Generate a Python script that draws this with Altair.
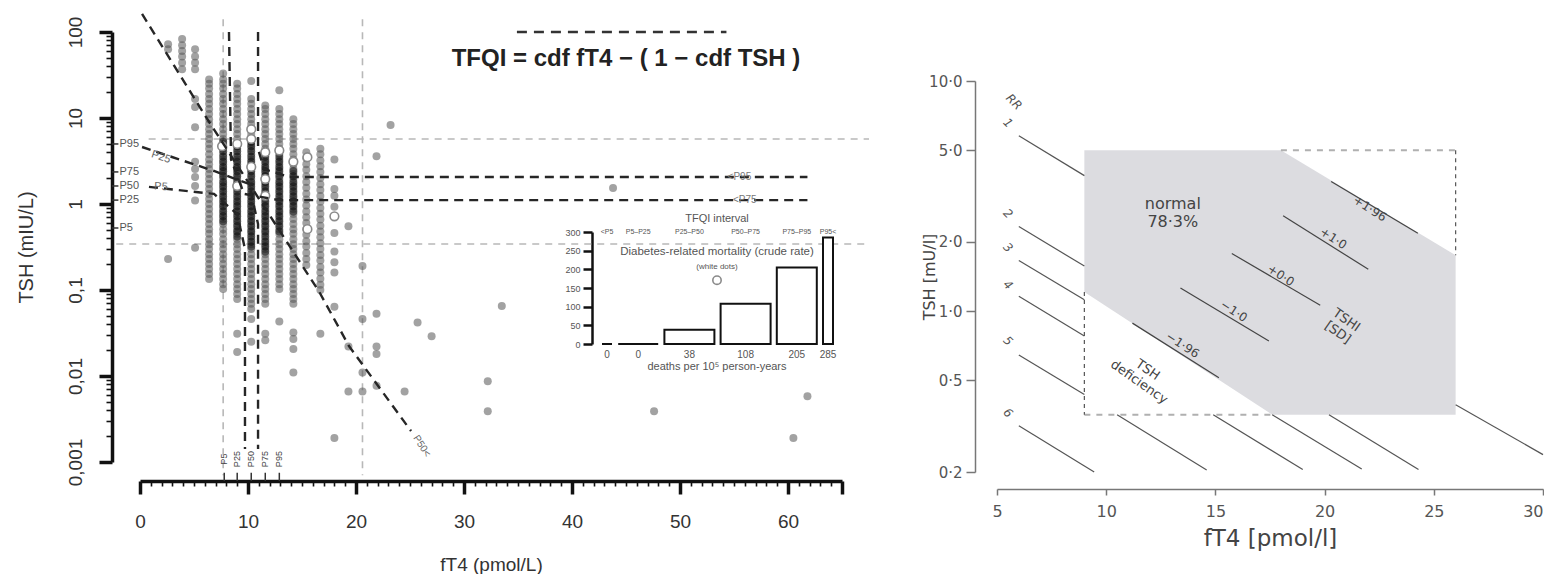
import altair as alt
import pandas as pd

FL = "Liberation Sans"
FR = "DejaVu Sans"

# ================= LEFT PANEL DATA =================
# grey dots: fT4 column (pmol/L) -> TSH values (mIU/L)
DOTS = {
    2.6: [72, 63, 0.23],
    3.9: [83, 70, 60, 52, 44, 37],
    5.1: [63, 52, 44, 37, 16.6, 13.4, 7.8, 3.1, 2.55, 2.06, 1.62, 1.1, 0.31],
    6.4: [28, 25, 22, 19, 16.6, 14.6, 12.7, 11.1, 9.7, 8.5, 7.4, 6.5, 5.7, 5.0, 4.4, 3.8, 3.3, 2.9,
          2.55, 2.23, 1.95, 1.71, 1.49, 1.31, 1.14, 1.0, 0.875, 0.765, 0.67, 0.585, 0.51, 0.45, 0.39,
          0.34, 0.30, 0.26, 0.23, 0.2, 0.175, 0.153, 0.134],
    7.7: [33, 28, 25, 22, 19, 16.6, 14.6, 12.7, 11.1, 9.7, 8.5, 7.4, 6.5, 5.7, 5.0, 4.4, 3.8, 3.3,
          2.9, 2.55, 2.23, 1.95, 1.71, 1.49, 1.31, 1.14, 1.0, 0.875, 0.765, 0.67, 0.585, 0.51, 0.45,
          0.39, 0.34, 0.30, 0.26, 0.23, 0.2, 0.175, 0.153, 0.134, 0.117, 0.103],
    9.0: [25, 22, 19, 16.6, 14.6, 12.7, 11.1, 9.7, 8.5, 7.4, 6.5, 5.7, 5.0, 4.4, 3.8, 3.3, 2.9, 2.55,
          2.23, 1.95, 1.71, 1.49, 1.31, 1.14, 1.0, 0.875, 0.765, 0.67, 0.585, 0.51, 0.45, 0.39, 0.34,
          0.30, 0.26, 0.23, 0.2, 0.175, 0.153, 0.134, 0.117, 0.103, 0.09, 0.0785, 0.031, 0.019],
    10.3: [27, 16.6, 14.6, 12.7, 11.1, 9.7, 8.5, 7.4, 6.5, 5.7, 5.0, 4.4, 3.8, 3.3, 2.9, 2.55, 2.23,
           1.95, 1.71, 1.49, 1.31, 1.14, 1.0, 0.875, 0.765, 0.67, 0.585, 0.51, 0.45, 0.39, 0.34, 0.30,
           0.26, 0.23, 0.2, 0.175, 0.153, 0.134, 0.117, 0.103, 0.09, 0.0785, 0.069, 0.06, 0.046, 0.025],
    11.6: [14, 12.7, 11.1, 9.7, 8.5, 7.4, 6.5, 5.7, 5.0, 4.4, 3.8, 3.3, 2.9, 2.55, 2.23, 1.95, 1.71,
           1.49, 1.31, 1.14, 1.0, 0.875, 0.765, 0.67, 0.585, 0.51, 0.45, 0.39, 0.34, 0.30, 0.26, 0.23,
           0.2, 0.175, 0.153, 0.134, 0.117, 0.103, 0.09, 0.0785, 0.069, 0.031, 0.026],
    12.9: [21, 12.7, 11.1, 9.7, 8.5, 7.4, 6.5, 5.7, 5.0, 4.4, 3.8, 3.3, 2.9, 2.55, 2.23, 1.95, 1.71,
           1.49, 1.31, 1.14, 1.0, 0.875, 0.765, 0.67, 0.585, 0.51, 0.45, 0.39, 0.34, 0.30, 0.26, 0.23,
           0.2, 0.175, 0.153, 0.134, 0.117, 0.103, 0.043],
    14.2: [9.7, 8.5, 7.4, 6.5, 5.7, 5.0, 4.4, 3.8, 3.3, 2.9, 2.55, 2.23, 1.95, 1.71, 1.49, 1.31, 1.14,
           1.0, 0.875, 0.765, 0.67, 0.585, 0.51, 0.45, 0.39, 0.34, 0.30, 0.26, 0.23, 0.2, 0.175, 0.153,
           0.134, 0.117, 0.103, 0.09, 0.0785, 0.069, 0.032, 0.027, 0.0206, 0.011],
    15.4: [4.0, 3.4, 2.9, 2.5, 2.1, 1.8, 1.55, 1.32, 1.13, 0.96, 0.82, 0.7, 0.6, 0.51, 0.44, 0.37,
           0.32, 0.27, 0.23, 0.195],
    16.7: [4.4, 3.8, 3.2, 2.75, 2.35, 2.0, 1.7, 1.45, 1.24, 1.06, 0.9, 0.77, 0.66, 0.56, 0.48, 0.41,
           0.35, 0.3, 0.255, 0.22, 0.185, 0.16, 0.135, 0.115, 0.1, 0.031],
    18.0: [3.3, 1.49, 1.25, 0.93, 0.46, 0.28, 0.21, 0.16, 0.064, 0.0019],
    19.3: [0.55, 0.022, 0.0066],
    20.6: [0.19, 0.046, 0.011, 0.0066],
    21.9: [3.6, 0.053, 0.022, 0.018, 0.0077],
    23.2: [8.3],
    24.5: [0.0066],
    25.7: [0.042],
    27.0: [0.029],
    32.2: [0.0087, 0.0039],
    33.5: [0.065],
    43.8: [1.53],
    47.6: [0.0039],
    60.5: [0.0019],
    61.8: [0.0058],
}
# extra dots in the crowded (black) core
CORE = {
    7.7: [5.3, 4.7, 4.1, 3.55, 3.1, 2.7, 2.4, 2.1, 1.8, 1.6, 1.4, 1.22, 1.07, 0.94, 0.82, 0.72, 0.63],
    9.0: [4.7, 4.1, 3.55, 3.1, 2.7, 2.4, 2.1, 1.8, 1.6, 1.4, 1.22, 1.07, 0.94, 0.82, 0.72, 0.63, 0.55, 0.48, 0.42],
    10.3: [5.3, 4.7, 4.1, 3.55, 3.1, 2.7, 2.4, 2.1, 1.8, 1.6, 1.4, 1.22, 1.07, 0.94, 0.82, 0.72, 0.63, 0.55, 0.48, 0.42, 0.365, 0.32],
    11.6: [4.1, 3.55, 3.1, 2.7, 2.4, 2.1, 1.8, 1.6, 1.4, 1.22, 1.07, 0.94, 0.82, 0.72, 0.63, 0.55, 0.48, 0.42, 0.365, 0.32, 0.28],
    12.9: [3.55, 3.1, 2.7, 2.4, 2.1, 1.8, 1.6, 1.4, 1.22, 1.07, 0.94, 0.82, 0.72, 0.63, 0.55, 0.48],
    14.2: [2.4, 2.1, 1.8, 1.6, 1.4, 1.22, 1.07, 0.94, 0.82],
}
# white dots (diabetes-related deaths)
WHITE_X = [7.6, 9.0, 10.3, 10.3, 11.6, 12.9, 14.2, 15.5, 9.0, 11.6, 11.6, 10.3, 18.0, 15.5]
WHITE_Y = [4.7, 5.0, 7.4, 5.7, 4.0, 4.2, 3.1, 3.5, 1.62, 1.95, 1.25, 2.7, 0.72, 0.51]

# TFQI percentile iso-curves (fT4, TSH)
CURVE_NAME = ["P95", "P75", "P25", "P5", "P50"]
CURVE_X = [[10.93, 10.93, 11.48, 13.8, 61.8],
           [8.24, 8.43, 9.63, 12.87, 61.8],
           [0.19, 6.85, 10.1, 10.93, 10.93],
           [0.83, 6.85, 9.0, 9.72, 9.72],
           [0.19, 6.1, 16.6, 19.35, 25.1]]
CURVE_Y = [[100, 4.37, 2.55, 2.06, 2.06],
           [100, 3.3, 1.31, 1.11, 1.11],
           [4.6, 2.42, 1.71, 0.585, 0.00142],
           [1.58, 1.31, 0.765, 0.30, 0.00142],
           [162, 10.3, 0.095, 0.0223, 0.00229]]

# reference-interval light dashed lines
REFV_X = [7.7, 20.6]
REFV_Y = [141, 0.0007]
REFH_Y = [5.7, 0.343]
REFH_X0 = [0.8, -2.2]
REFH_X1 = 67.5

# TSH percentiles on y axis, fT4 percentiles on x axis
TSH_PCT_LAB = ["P95", "P75", "P50", "P25", "P5"]
TSH_PCT_VAL = [4.99, 2.36, 1.62, 1.11, 0.526]
FT4_PCT_LAB = ["P5", "P25", "P50", "P75", "P95"]
FT4_PCT_VAL = [7.8, 9.0, 10.3, 11.6, 12.9]

# inset bar chart
BAR_START = [0, 5, 25, 50, 75, 95]
BAR_END = [5, 25, 50, 75, 95, 100]
BAR_RATE = [0, 0, 38, 108, 205, 285]
BAR_CAT = ["<P5", "P5–P25", "P25–P50", "P50–P75", "P75–P95", "P95<"]

# ================= RIGHT PANEL DATA =================
POLY_X = [9, 17.6, 18, 26]
POLY_UP = [5, 5, 5, 1.75]
POLY_LO = [1.21, 0.355, 0.355, 0.355]
RR_SEG = [  # x, y, x2, y2
    (6, 5.78, 9, 3.88), (26, 0.392, 30.0, 0.238),
    (6, 2.33, 9, 1.57), (20.2, 0.355, 24.3, 0.205),
    (6, 1.66, 9, 1.12), (17.6, 0.355, 21.7, 0.206),
    (6, 1.16, 9, 0.78), (14.9, 0.355, 19.0, 0.205),
    (6, 0.645, 9, 0.434), (10.5, 0.355, 14.6, 0.204),
    (6, 0.318, 9.45, 0.2),
]
RR_LAB = ["RR", "1", "2", "3", "4", "5", "6"]
RR_LAB_X = [5.78, 5.5, 5.5, 5.5, 5.5, 5.5, 5.5]
RR_LAB_Y = [8.11, 6.58, 2.65, 1.89, 1.30, 0.742, 0.361]
TSHI_SEG = [(20.3, 3.66, 24.27, 2.18), (18.1, 2.6, 22.0, 1.52), (15.75, 1.78, 19.8, 1.06),
            (13.4, 1.26, 17.45, 0.742), (11.2, 0.887, 15.16, 0.513)]
TSHI_LAB = ["+1·96", "+1·0", "+0·0", "−1·0", "−1·96"]
TSHI_LAB_X = [22.07, 20.4, 18.0, 15.85, 13.5]
TSHI_LAB_Y = [2.79, 2.07, 1.43, 1.0, 0.713]
BOX_LIGHT = [(18, 5, 26, 5), (9, 0.355, 17.6, 0.355)]
BOX_DARK = [(26, 5, 26, 1.75), (9, 1.21, 9, 0.355)]

# ================= LEFT PANEL =================
major_x = "datum.value % 10 === 0 || datum.value === 65"
major_y = "abs(log(datum.value)/LN10 - round(log(datum.value)/LN10)) < 0.01"

x_axis_L = alt.Axis(
    values=list(range(0, 66)), orient="bottom", offset=19, grid=False,
    domainColor="#111", domainWidth=3.5, tickColor="#111",
    tickSize={"condition": {"test": major_x, "value": 13}, "value": 5},
    tickWidth={"condition": {"test": major_x, "value": 3.5}, "value": 1.6},
    labelExpr="datum.value % 10 === 0 ? datum.label : ''",
    labelFont=FL, labelFontSize=19, labelColor="#333", labelPadding=18,
    labelFlush=False, labelOverlap=False, labelBound=False,
    title="fT4 (pmol/L)", titleFont=FL, titleFontSize=19, titleFontWeight="normal",
    titleColor="#333", titlePadding=24,
)
y_vals = [k * 10.0 ** d for d in range(-3, 2) for k in range(1, 10)] + [100]
y_axis_L = alt.Axis(
    values=y_vals, orient="left", offset=28, grid=False,
    domainColor="#111", domainWidth=3.5, tickColor="#111",
    tickSize={"condition": {"test": major_y, "value": 13}, "value": 6},
    tickWidth={"condition": {"test": major_y, "value": 3.5}, "value": 1.6},
    labelExpr=major_y + " ? replace(format(datum.value, '~g'), '.', ',') : ''",
    labelAngle=270, labelAlign="center", labelBaseline="bottom",
    labelFont=FL, labelFontSize=19, labelColor="#333", labelPadding=14,
    labelFlush=False, labelOverlap=False, labelBound=False,
    title="TSH (mIU/L)", titleFont=FL, titleFontSize=20, titleFontWeight="normal",
    titleColor="#333", titlePadding=30,
)
xs_L = alt.Scale(domain=[0, 65], nice=False, zero=False)
ys_L = alt.Scale(type="log", domain=[0.001, 100], nice=False)
X_L = alt.X("x:Q", scale=xs_L, axis=x_axis_L)
Y_L = alt.Y("y:Q", scale=ys_L, axis=y_axis_L)


def chartL(df):
    return alt.Chart(df).encode(x=X_L, y=Y_L)


dots = pd.DataFrame([{"x": k, "y": v} for k, vs in DOTS.items() for v in vs])
core = pd.DataFrame([{"x": k, "y": v} for k, vs in CORE.items() for v in vs])
whites = pd.DataFrame({"x": WHITE_X, "y": WHITE_Y})
curves = pd.DataFrame([{"c": n, "i": i, "x": xx, "y": yy}
                       for n, xs, ys in zip(CURVE_NAME, CURVE_X, CURVE_Y)
                       for i, (xx, yy) in enumerate(zip(xs, ys))])
ref_rules = pd.DataFrame(
    [{"x": v, "x2": v, "y": REFV_Y[0], "y2": REFV_Y[1]} for v in REFV_X]
    + [{"x": x0, "x2": REFH_X1, "y": h, "y2": h} for h, x0 in zip(REFH_Y, REFH_X0)])
title_rule = pd.DataFrame({"x": [34.9], "x2": [54.3], "y": [100], "y2": [100]})
ytick_rules = pd.DataFrame({"x": [-2.59] * 5, "x2": [-2.0] * 5, "y": TSH_PCT_VAL, "y2": TSH_PCT_VAL})
xtick_rules = pd.DataFrame({"x": FT4_PCT_VAL, "x2": FT4_PCT_VAL, "y": [0.0006] * 5, "y2": [0.00075] * 5})

L_ref = chartL(ref_rules).mark_rule(strokeDash=[7, 6], color="#b8b8b8", strokeWidth=1.6).encode(
    x2="x2:Q", y2="y2:Q")
L_dots = chartL(dots).mark_circle(size=64, color="#555555", opacity=0.55)
L_core = chartL(core).mark_circle(size=64, color="#000000", opacity=0.52)
L_white = chartL(whites).mark_point(shape="circle", size=75, filled=True, fill="white",
                                    stroke="#8a8a8a", strokeWidth=1.6, opacity=1)
L_curves = chartL(curves).mark_line(strokeDash=[9, 6], color="#262626", strokeWidth=2.4).encode(
    detail="c:N", order="i:Q")
L_trule = chartL(title_rule).mark_rule(strokeDash=[10, 7], color="#333", strokeWidth=2.5).encode(
    x2="x2:Q", y2="y2:Q")
L_ytk = chartL(ytick_rules).mark_rule(color="#333", strokeWidth=1.5).encode(x2="x2:Q", y2="y2:Q")
L_xtk = chartL(xtick_rules).mark_rule(color="#333", strokeWidth=1.5).encode(x2="x2:Q", y2="y2:Q")

L_formula = chartL(pd.DataFrame({"x": [45], "y": [48], "t": ["TFQI = cdf fT4 − ( 1 − cdf TSH )"]})).mark_text(
    font=FL, fontSize=24, fontWeight="bold", color="#222").encode(text="t:N")
L_ypct = chartL(pd.DataFrame({"x": [-1.9] * 5, "y": TSH_PCT_VAL, "t": TSH_PCT_LAB})).mark_text(
    font=FL, fontSize=11, color="#555", align="left", baseline="middle").encode(text="t:N")
L_xpct = chartL(pd.DataFrame({"x": FT4_PCT_VAL, "y": [0.00108] * 5, "t": FT4_PCT_LAB})).mark_text(
    font=FL, fontSize=9, color="#444", angle=270, align="center", baseline="middle").encode(text="t:N")
L_p25 = chartL(pd.DataFrame({"x": [1.94], "y": [3.5], "t": ["P25"]})).mark_text(
    font=FL, fontSize=11, color="#666", angle=18).encode(text="t:N")
L_p5 = chartL(pd.DataFrame({"x": [1.94], "y": [1.58], "t": ["P5"]})).mark_text(
    font=FL, fontSize=11, color="#666", angle=3).encode(text="t:N")
L_p50 = chartL(pd.DataFrame({"x": [26.1], "y": [0.00153], "t": ["P50<"]})).mark_text(
    font=FL, fontSize=10, color="#666", angle=57).encode(text="t:N")
L_right = chartL(pd.DataFrame({"x": [55.5, 56], "y": [2.06, 1.11], "t": ["<P95", "<P75"]})).mark_text(
    font=FL, fontSize=10, color="#777").encode(text="t:N")

main_group = alt.layer(L_ref, L_dots, L_core, L_white, L_curves, L_trule, L_ytk, L_xtk,
                       L_formula, L_ypct, L_xpct, L_p25, L_p5, L_p50, L_right)

# ----- inset -----
inset_axis = alt.Axis(values=[0, 50, 100, 150, 200, 250, 300], orient="left", offset=-452,
                      grid=False, domainColor="#111", domainWidth=2.5, tickColor="#111",
                      tickWidth=2.5, tickSize=9, labelFont=FL, labelFontSize=9, labelColor="#555",
                      labelPadding=3, labelFlush=False, title=None)
xs_I = alt.Scale(domain=[0, 115.5], range=[462, 693], nice=False, zero=False)
ys_I = alt.Scale(domain=[0, 300], range=[312, 200], nice=False, zero=False)


def XI(f):
    return alt.X(f, scale=xs_I, axis=None)


def YI(f):
    return alt.Y(f, scale=ys_I, axis=inset_axis)


bars = pd.DataFrame({"idx": list(range(6)), "start": BAR_START, "end": BAR_END,
                     "rate": BAR_RATE, "cat": BAR_CAT, "lab": [str(r) for r in BAR_RATE]})
bars_c = alt.Chart(bars).transform_calculate(
    bx="datum.start + 3.1*datum.idx", bx2="datum.end + 3.1*datum.idx",
    bc="(datum.start + datum.end)/2 + 3.1*datum.idx", zero="0", vy="-29", cy="300")
I_bars = bars_c.mark_rect(fill="white", stroke="#111", strokeWidth=2).encode(
    x=XI("bx:Q"), x2="bx2:Q", y=YI("zero:Q"), y2="rate:Q")
I_vals = bars_c.mark_text(font=FL, fontSize=10, color="#555").encode(
    x=XI("bc:Q"), y=YI("vy:Q"), text="lab:N")
I_cats = bars_c.mark_text(font=FL, fontSize=7, color="#555").encode(
    x=XI("bc:Q"), y=YI("cy:Q"), text="cat:N")
itxt = pd.DataFrame({"bc": [57.5, 57.5, 57.5, 57.5],
                     "by": [335, 246, 205, -62],
                     "t": ["TFQI interval", "Diabetes-related mortality (crude rate)", "(white dots)",
                           "deaths per 10⁵ person-years"],
                     "fs": [11, 11.5, 8, 11]})
I_txt = alt.Chart(itxt).mark_text(font=FL, color="#555").encode(
    x=XI("bc:Q"), y=YI("by:Q"), text="t:N", size=alt.Size("fs:Q", scale=None, legend=None))
I_wd = alt.Chart(pd.DataFrame({"bc": [57.5], "by": [171]})).mark_point(
    shape="circle", size=70, filled=True, fill="white", stroke="#8a8a8a", strokeWidth=1.6, opacity=1).encode(
    x=XI("bc:Q"), y=YI("by:Q"))

inset_group = alt.layer(I_bars, I_vals, I_cats, I_txt, I_wd)

left = alt.layer(main_group, inset_group).resolve_scale(
    x="independent", y="independent").properties(width=702, height=430)

# ================= RIGHT PANEL =================
x_axis_R = alt.Axis(values=[5, 10, 15, 20, 25, 30], orient="bottom", offset=17, grid=False,
                    domainColor="#777", domainWidth=1.5, tickColor="#777", tickWidth=1.5, tickSize=6,
                    labelFont=FR, labelFontSize=16, labelColor="#555", labelPadding=8,
                    labelAlign={"condition": {"test": "datum.value === 30", "value": "right"}, "value": "center"},
                    labelFlush=False, title="fT4 [pmol/l]", titleFont=FR, titleFontSize=23,
                    titleFontWeight="normal", titleColor="#444", titlePadding=8)
y_axis_R = alt.Axis(values=[0.2, 0.5, 1, 2, 5, 10], orient="left", offset=22, grid=False,
                    domainColor="#777", domainWidth=1.5, tickColor="#777", tickWidth=1.5, tickSize=9,
                    labelExpr="replace(format(datum.value, '.1f'), '.', '·')",
                    labelFont=FR, labelFontSize=15, labelColor="#555", labelPadding=4,
                    labelFlush=False, labelOverlap=False, title="TSH [mU/l]", titleFont=FR,
                    titleFontSize=16, titleFontWeight="normal", titleColor="#444", titlePadding=-9)
xs_R = alt.Scale(domain=[5, 30], nice=False, zero=False)
ys_R = alt.Scale(type="log", domain=[0.2, 10], nice=False)
X_R = alt.X("x:Q", scale=xs_R, axis=x_axis_R)
Y_R = alt.Y("y:Q", scale=ys_R, axis=y_axis_R)


def chartR(df):
    return alt.Chart(df).encode(x=X_R, y=Y_R)


def segs(lst):
    return pd.DataFrame(lst, columns=["x", "y", "x2", "y2"])


R_poly = chartR(pd.DataFrame({"x": POLY_X, "y": POLY_UP, "y2": POLY_LO})).mark_area(
    color="#dcdce0", opacity=1).encode(y2="y2:Q")
R_boxl = chartR(segs(BOX_LIGHT)).mark_rule(color="#b0b0b0", strokeWidth=2, strokeDash=[6, 6]).encode(
    x2="x2:Q", y2="y2:Q")
R_boxd = chartR(segs(BOX_DARK)).mark_rule(color="#555", strokeWidth=1.2, strokeDash=[4, 4]).encode(
    x2="x2:Q", y2="y2:Q")
R_rr = chartR(segs(RR_SEG)).mark_rule(color="#555", strokeWidth=1.2).encode(x2="x2:Q", y2="y2:Q")
R_tshi = chartR(segs(TSHI_SEG)).mark_rule(color="#444", strokeWidth=1.2).encode(x2="x2:Q", y2="y2:Q")
R_tshil = chartR(pd.DataFrame({"x": TSHI_LAB_X, "y": TSHI_LAB_Y, "t": TSHI_LAB})).mark_text(
    font=FR, fontSize=12, color="#444", angle=33).encode(text="t:N")
R_rrl = chartR(pd.DataFrame({"x": RR_LAB_X, "y": RR_LAB_Y, "t": RR_LAB})).mark_text(
    font=FR, fontSize=12, color="#555", angle=45, fontStyle="italic").encode(text="t:N")
R_norm = chartR(pd.DataFrame({"x": [13.05], "y": [2.93], "t": ["normal\n78·3%"]})).mark_text(
    font=FR, fontSize=16, color="#444", lineBreak="\n").encode(text="t:N")
R_rot = chartR(pd.DataFrame({"x": [21.0, 11.9], "y": [0.914, 0.556], "t": ["TSHI\n[SD]", "TSH\ndeficiency"]})).mark_text(
    font=FR, fontSize=13, color="#444", angle=35, lineBreak="\n").encode(text="t:N")

right = alt.layer(R_poly, R_boxl, R_boxd, R_rr, R_tshi, R_tshil, R_rrl, R_norm, R_rot).properties(
    width=546, height=391)

spacer = alt.Chart(pd.DataFrame({"s": [0]})).mark_point(opacity=0).properties(width=10, height=42)

chart = alt.hconcat(left, alt.vconcat(spacer, right, spacing=0), spacing=51).properties(
    padding={"left": 8, "top": 1, "right": 0, "bottom": 0}
).configure_view(strokeWidth=0, stroke="transparent")

chart.save("out.html", embed_options={"renderer": "svg", "actions": False})
